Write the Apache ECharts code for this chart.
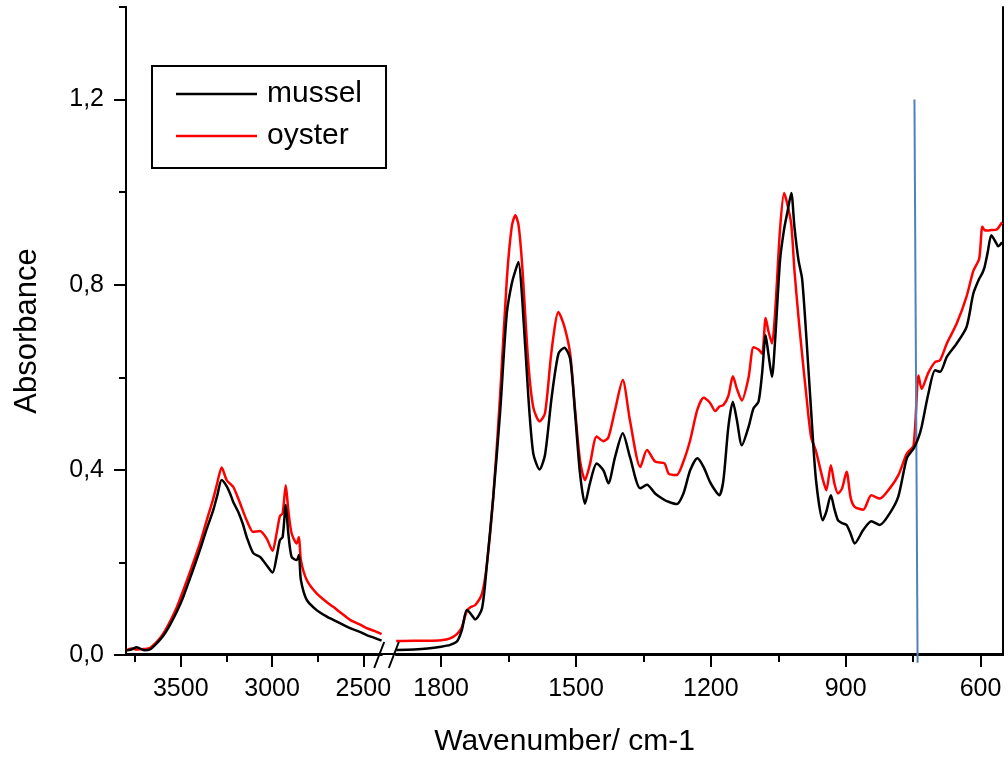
<!DOCTYPE html>
<html>
<head>
<meta charset="utf-8">
<script src="https://cdn.jsdelivr.net/npm/echarts@6/dist/echarts.min.js"></script>
<style>
html,body{margin:0;padding:0;background:#fff;}
#chart{width:1008px;height:762px;}
</style>
</head>
<body>
<div id="chart"></div>
<script>
// ---- data ----
const waveLeft = [3800,3770,3741,3700,3669,3623,3590,3559,3520,3486,3440,3395,3360,3322,3300,3276,3249,3230,3212,3185,3160,3139,3103,3066,3030,2997,2975,2957,2942,2925,2911,2893,2865,2853,2842,2810,2756,2700,2665,2620,2573,2520,2482,2440,2400];
const musselLeft = [0.010,0.012,0.017,0.010,0.012,0.029,0.045,0.065,0.095,0.126,0.176,0.227,0.270,0.313,0.345,0.378,0.365,0.349,0.330,0.309,0.283,0.255,0.220,0.212,0.194,0.178,0.212,0.248,0.255,0.324,0.263,0.212,0.205,0.216,0.162,0.119,0.097,0.083,0.076,0.067,0.058,0.050,0.043,0.037,0.031];
const oysterLeft = [0.010,0.014,0.012,0.013,0.015,0.032,0.050,0.072,0.105,0.140,0.190,0.241,0.288,0.338,0.372,0.405,0.378,0.370,0.363,0.338,0.312,0.291,0.266,0.268,0.252,0.225,0.263,0.300,0.306,0.367,0.313,0.263,0.241,0.255,0.205,0.162,0.133,0.114,0.104,0.090,0.076,0.066,0.058,0.052,0.045];

const waveRight = [1900,1860,1830,1800,1780,1765,1754,1743,1735,1724,1709,1698,1684,1669,1654,1643,1635,1628,1620,1606,1595,1581,1569,1554,1539,1526,1513,1502,1491,1480,1469,1454,1439,1428,1413,1396,1380,1357,1342,1324,1303,1294,1276,1261,1246,1230,1216,1202,1190,1181,1172,1161,1151,1142,1131,1116,1105,1094,1086,1078,1072,1064,1057,1046,1037,1030,1021,1014,1005,997,988,977,966,951,943,933,925,917,908,898,889,880,861,843,824,802,783,764,749,738,731,716,701,690,675,653,631,616,603,596,591,584,576,565,561,552];
const musselRight = [0.011,0.012,0.014,0.018,0.022,0.029,0.054,0.097,0.090,0.077,0.101,0.198,0.342,0.522,0.738,0.802,0.830,0.849,0.775,0.558,0.435,0.401,0.432,0.558,0.651,0.664,0.640,0.522,0.392,0.327,0.371,0.414,0.399,0.371,0.428,0.479,0.428,0.360,0.368,0.349,0.335,0.331,0.326,0.349,0.399,0.425,0.406,0.374,0.355,0.345,0.378,0.493,0.547,0.507,0.453,0.493,0.533,0.547,0.608,0.691,0.651,0.601,0.680,0.853,0.920,0.955,0.998,0.925,0.853,0.813,0.694,0.529,0.378,0.291,0.310,0.345,0.315,0.291,0.285,0.281,0.262,0.241,0.270,0.289,0.281,0.306,0.342,0.425,0.446,0.470,0.493,0.565,0.615,0.612,0.644,0.673,0.709,0.781,0.813,0.825,0.838,0.870,0.907,0.890,0.883,0.892];
const oysterRight = [0.030,0.031,0.031,0.032,0.036,0.045,0.060,0.095,0.103,0.108,0.133,0.198,0.342,0.558,0.810,0.925,0.950,0.930,0.846,0.630,0.535,0.505,0.522,0.660,0.741,0.710,0.651,0.530,0.420,0.378,0.412,0.472,0.462,0.470,0.530,0.594,0.507,0.406,0.443,0.418,0.414,0.392,0.389,0.418,0.464,0.530,0.556,0.545,0.527,0.537,0.540,0.560,0.602,0.575,0.550,0.600,0.665,0.660,0.651,0.728,0.700,0.673,0.740,0.920,0.998,0.975,0.930,0.831,0.730,0.650,0.565,0.471,0.440,0.380,0.356,0.410,0.370,0.349,0.360,0.396,0.340,0.320,0.314,0.345,0.338,0.360,0.388,0.435,0.453,0.604,0.575,0.610,0.633,0.637,0.673,0.716,0.775,0.830,0.856,0.925,0.918,0.917,0.918,0.919,0.922,0.935];

const markerWave = [747, 740];
const markerAbs = [1.2, -0.017];

const leftMajorTicks = [3500, 3000, 2500];
const leftMinorTicks = [3750, 3250, 2750];
const rightMajorTicks = [1800, 1500, 1200, 900, 600];
const rightMinorTicks = [1650, 1350, 1050, 750];
const yMajorTicks = [0, 0.4, 0.8, 1.2];
const yMinorTicks = [0.2, 0.6, 1.0, 1.4];

const seriesNames = ['mussel', 'oyster'];
const seriesColors = ['#000000', '#ff0000'];

// ---- chart ----
const FONT = '"Liberation Sans", Arial, Helvetica, sans-serif';
const zip = (xs, ys) => xs.map((x, i) => [x, ys[i]]);
const lineCol = '#000';

function xAx(grid, min, max, major, minor, showLabel) {
  return {
    type: 'value', gridIndex: grid, min: min, max: max, inverse: true, position: 'bottom',
    axisLine: {show: true, onZero: false, lineStyle: {color: lineCol, width: 2}},
    axisTick: {show: true, inside: false, length: showLabel ? 12 : 7, customValues: showLabel ? major : minor, lineStyle: {color: lineCol, width: 2}},
    axisLabel: {show: showLabel, customValues: major, margin: 22, color: '#000', fontSize: 25, fontFamily: FONT,
      formatter: v => String(Math.round(v))},
    splitLine: {show: false}
  };
}
function yAx(grid, major, showLabel, ticks) {
  return {
    type: 'value', gridIndex: grid, min: 0, max: 1.4, position: 'left',
    axisLine: {show: true, onZero: false, lineStyle: {color: lineCol, width: 2}},
    axisTick: {show: true, inside: false, length: showLabel ? 12 : 7, customValues: ticks, lineStyle: {color: lineCol, width: 2}},
    axisLabel: {show: showLabel, customValues: major, margin: 22, color: '#000', fontSize: 25, fontFamily: FONT,
      formatter: v => v.toFixed(1).replace('.', ',')},
    splitLine: {show: false}
  };
}

const chart = echarts.init(document.getElementById('chart'), null, {renderer: 'canvas'});
const option = {
  animation: false,
  backgroundColor: '#fff',
  grid: [
    {left: 126, top: 7, width: 255.6, height: 648},
    {left: 396.2, top: 7, width: 606.8, height: 648},
    {left: 126, top: 7, width: 877, height: 648}
  ],
  xAxis: [
    xAx(0, 2400, 3800, leftMajorTicks, leftMinorTicks, true),
    xAx(0, 2400, 3800, leftMajorTicks, leftMinorTicks, false),
    xAx(1, 550, 1900, rightMajorTicks, rightMinorTicks, true),
    xAx(1, 550, 1900, rightMajorTicks, rightMinorTicks, false),
    {type: 'value', gridIndex: 2, min: 0, max: 1, position: 'top',
      axisLine: {show: true, lineStyle: {color: lineCol, width: 2}}, axisTick: {show: false}, axisLabel: {show: false}, splitLine: {show: false}},
    {type: 'value', gridIndex: 2, min: 0, max: 1, position: 'bottom',
      axisLine: {show: false}, axisTick: {show: false}, axisLabel: {show: false}, splitLine: {show: false},
      name: 'Wavenumber/ cm-1', nameLocation: 'middle', nameGap: 73,
      nameTextStyle: {color: '#000', fontSize: 30, fontFamily: FONT}}
  ],
  yAxis: [
    Object.assign(yAx(0, yMajorTicks, true, yMajorTicks), {
      name: 'Absorbance', nameLocation: 'middle', nameGap: 83,
      nameTextStyle: {color: '#000', fontSize: 31, fontFamily: FONT}}),
    yAx(0, yMajorTicks, false, yMinorTicks),
    {type: 'value', gridIndex: 1, min: 0, max: 1.4, position: 'right',
      axisLine: {show: true, lineStyle: {color: lineCol, width: 2}}, axisTick: {show: false}, axisLabel: {show: false}, splitLine: {show: false}},
    {type: 'value', gridIndex: 2, min: 0, max: 1, show: false}
  ],
  legend: {
    data: seriesNames, orient: 'vertical', left: 152, top: 66,
    borderColor: '#000', borderWidth: 2, padding: [13, 24, 17, 24],
    icon: 'rect', itemWidth: 81, itemHeight: 2.5, itemGap: 12,
    textStyle: {color: '#000', fontSize: 30, lineHeight: 30, fontFamily: FONT, padding: [0, 0, 0, 5]}
  },
  series: [
    {name: seriesNames[0], type: 'line', xAxisIndex: 0, yAxisIndex: 0, data: zip(waveLeft, musselLeft)},
    {name: seriesNames[1], type: 'line', xAxisIndex: 0, yAxisIndex: 0, data: zip(waveLeft, oysterLeft)},
    {name: seriesNames[0], type: 'line', xAxisIndex: 2, yAxisIndex: 2, data: zip(waveRight, musselRight)},
    {name: seriesNames[1], type: 'line', xAxisIndex: 2, yAxisIndex: 2, data: zip(waveRight, oysterRight)},
    {name: 'marker', type: 'line', xAxisIndex: 2, yAxisIndex: 2, data: zip(markerWave, markerAbs), clip: false,
      silent: true, symbol: 'none', lineStyle: {color: '#4f81bd', width: 2}, z: 3}
  ].map((s, i) => i < 4 ? Object.assign(s, {
      symbol: 'none', showSymbol: false, smooth: 0.25,
      color: seriesColors[i % 2], itemStyle: {color: seriesColors[i % 2]},
      lineStyle: {color: seriesColors[i % 2], width: 2.5}, z: i % 2 === 0 ? 4 : 3
    }) : s)
};
chart.setOption(option);

// axis-break marks, placed from the axes' own scales
const leftEnd = chart.convertToPixel({xAxisIndex: 0}, 2400);
const rightStart = chart.convertToPixel({xAxisIndex: 2}, 1900);
const y0 = chart.convertToPixel({yAxisIndex: 0}, 0);
const slash = e => ({type: 'line', shape: {x1: e - 7.4, y1: y0 + 13, x2: e + 2.6, y2: y0 - 13},
  style: {stroke: '#000', lineWidth: 2}, z: 10});
chart.setOption({graphic: [slash(leftEnd), slash(rightStart)]});
</script>
</body>
</html>
